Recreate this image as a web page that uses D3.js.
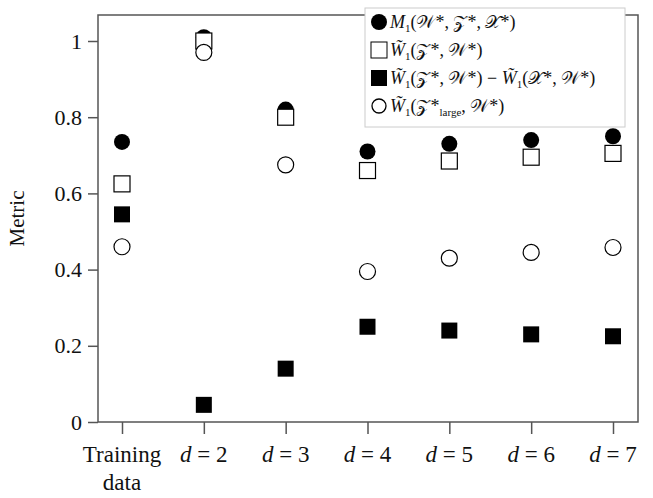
<!DOCTYPE html>
<html><head><meta charset="utf-8">
<script src="https://cdn.jsdelivr.net/npm/d3@7"></script>
<style>body{margin:0;background:#fff}text{font-family:"Liberation Serif","DejaVu Serif",serif;fill:#111}</style>
</head><body><svg id="c" width="653" height="498"></svg>
<script>
const categories = ["Training data", "d = 2", "d = 3", "d = 4", "d = 5", "d = 6", "d = 7"];
const m1 = [0.735, 1.01, 0.82, 0.71, 0.73, 0.74, 0.75];
const w1 = [0.625, 1.0, 0.80, 0.66, 0.685, 0.695, 0.705];
const wDiff = [0.545, 0.045, 0.14, 0.25, 0.24, 0.23, 0.225];
const wLarge = [0.46, 0.97, 0.675, 0.395, 0.43, 0.445, 0.458];
const yTicks = [0, 0.2, 0.4, 0.6, 0.8, 1];

const svg = d3.select("#c");
const L = 98, R = 638, T = 15, B = 422;
const x = d3.scalePoint().domain(categories).range([122, 613]);
const y = d3.scaleLinear().domain([0, 1]).range([B, 41]);

svg.append("rect").attr("x", L).attr("y", T).attr("width", R - L).attr("height", B - T)
  .attr("fill", "none").attr("stroke", "#555").attr("stroke-width", 1.5);

const ya = svg.append("g").attr("transform", `translate(${L},0)`)
  .call(d3.axisLeft(y).tickValues(yTicks).tickFormat(d => d === 0 ? "0" : d === 1 ? "1" : d3.format(".1f")(d)).tickSize(10).tickPadding(6));
ya.select(".domain").remove();
ya.selectAll("line").attr("stroke", "#555").attr("stroke-width", 1.5);
ya.selectAll("text").style("font-size", "22px");

const xa = svg.append("g").attr("transform", `translate(0,${B})`)
  .call(d3.axisBottom(x).tickSize(12).tickFormat(""));
xa.select(".domain").remove();
xa.selectAll("line").attr("stroke", "#555").attr("stroke-width", 1.5);
categories.forEach(c => {
  const t = svg.append("text").attr("x", x(c)).attr("y", 462).attr("text-anchor", "middle").style("font-size", "23px");
  if (c.startsWith("d")) {
    t.append("tspan").attr("font-style", "italic").text("d");
    t.append("tspan").text(c.slice(1));
  } else {
    t.text("Training");
    svg.append("text").attr("x", x(c)).attr("y", 490).attr("text-anchor", "middle").style("font-size", "23px").text("data");
  }
});

svg.append("text").attr("transform", `translate(24,${(T + B) / 2}) rotate(-90)`)
  .attr("text-anchor", "middle").style("font-size", "21px").text("Metric");

const g = svg.append("g");
g.selectAll(".m1").data(m1).join("circle").attr("cx", (d, i) => x(categories[i])).attr("cy", d => y(d)).attr("r", 8).attr("fill", "#000");
g.selectAll(".w1").data(w1).join("rect").attr("x", (d, i) => x(categories[i]) - 8).attr("y", d => y(d) - 8)
  .attr("width", 16).attr("height", 16).attr("fill", "#fff").attr("stroke", "#000").attr("stroke-width", 1.2);
g.selectAll(".wd").data(wDiff).join("rect").attr("x", (d, i) => x(categories[i]) - 8).attr("y", d => y(d) - 8)
  .attr("width", 16).attr("height", 16).attr("fill", "#000");
g.selectAll(".wl").data(wLarge).join("circle").attr("cx", (d, i) => x(categories[i])).attr("cy", d => y(d)).attr("r", 8)
  .attr("fill", "#fff").attr("stroke", "#000").attr("stroke-width", 1.2);

// legend
const lg = svg.append("g");
lg.append("rect").attr("x", 365).attr("y", 8).attr("width", 260).attr("height", 119)
  .attr("fill", "#fff").attr("stroke", "#ccc");
const entries = [
  ["dot", [["M", 1], ["1", 2], ["(𝒲*, 𝒵*, 𝒳*)", 0]]],
  ["sq", [["W̃", 1], ["1", 2], ["(𝒵*, 𝒲*)", 0]]],
  ["fsq", [["W̃", 1], ["1", 2], ["(𝒵*, 𝒲*) − ", 0], ["W̃", 1], ["1", 2], ["(𝒳*, 𝒲*)", 0]]],
  ["oc", [["W̃", 1], ["1", 2], ["(𝒵*", 0], ["large", 2], [", 𝒲*)", 0]]]
];
entries.forEach((e, i) => {
  const cy = 22 + i * 28;
  if (e[0] === "dot") lg.append("circle").attr("cx", 379).attr("cy", cy).attr("r", 8).attr("fill", "#000");
  if (e[0] === "sq") lg.append("rect").attr("x", 371).attr("y", cy - 8).attr("width", 16).attr("height", 16).attr("fill", "#fff").attr("stroke", "#000");
  if (e[0] === "fsq") lg.append("rect").attr("x", 371).attr("y", cy - 8).attr("width", 16).attr("height", 16).attr("fill", "#000");
  if (e[0] === "oc") lg.append("circle").attr("cx", 379).attr("cy", cy).attr("r", 7).attr("fill", "#fff").attr("stroke", "#000").attr("stroke-width", 1.3);
  const t = lg.append("text").attr("x", 390).attr("y", cy + 6).style("font-size", "18px");
  let prevSub = false;
  e[1].forEach(([s, k]) => {
    const sp = t.append("tspan").text(s);
    if (k === 1) sp.attr("font-style", "italic");
    if (k === 2) { sp.style("font-size", "11px").attr("dy", 4); prevSub = true; }
    else { sp.attr("dy", prevSub ? -4 : 0); prevSub = false; }
  });
});
</script></body></html>
